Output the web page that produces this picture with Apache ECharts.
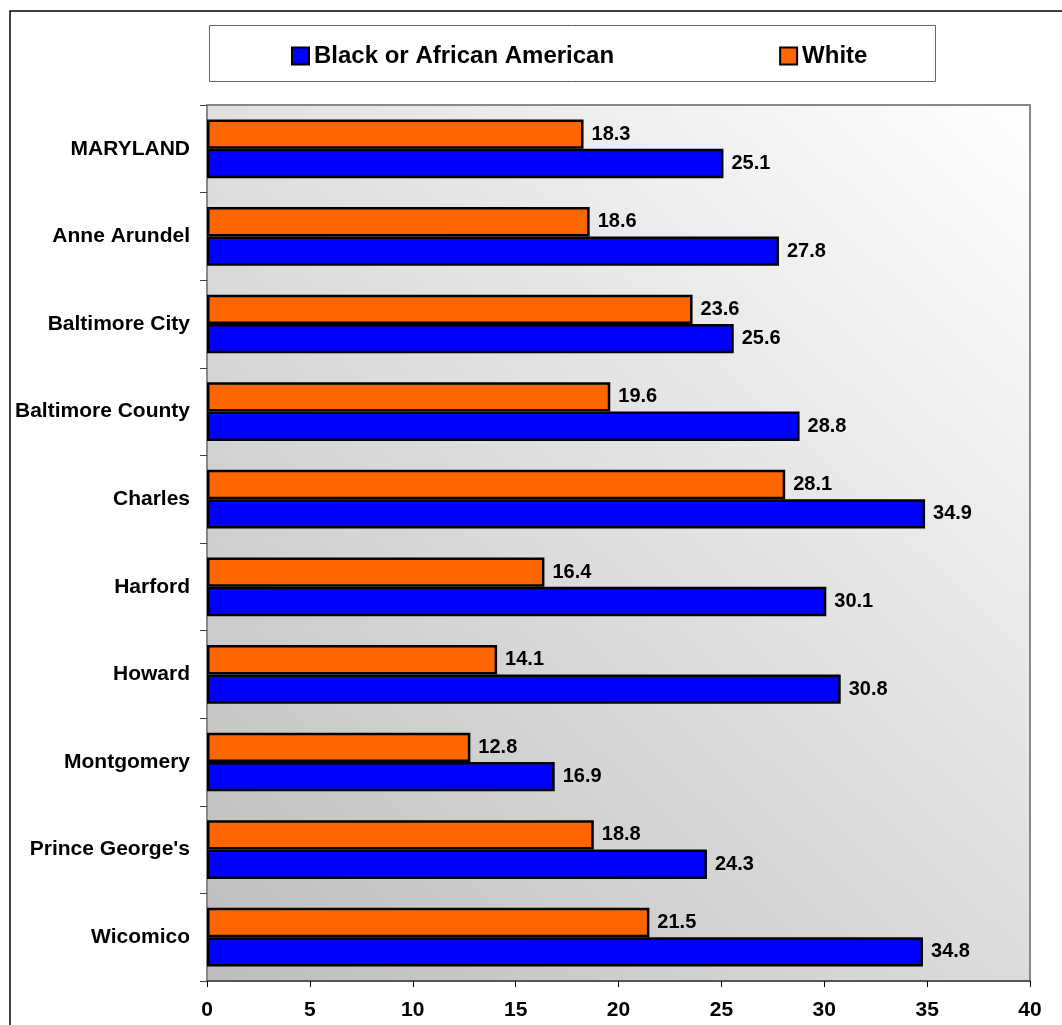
<!DOCTYPE html>
<html>
<head>
<meta charset="utf-8">
<script src="https://cdn.jsdelivr.net/npm/echarts@6/dist/echarts.min.js"></script>
<style>
  html, body { margin: 0; padding: 0; background: #fff; }
  #chart { width: 1062px; height: 1025px; }
</style>
</head>
<body>
<div id="chart"></div>
<script>
// data
const counties = ['MARYLAND', 'Anne Arundel', 'Baltimore City', 'Baltimore County', 'Charles',
  'Harford', 'Howard', 'Montgomery', "Prince George's", 'Wicomico']
const white = [18.3, 18.6, 23.6, 19.6, 28.1, 16.4, 14.1, 12.8, 18.8, 21.5]
const black = [25.1, 27.8, 25.6, 28.8, 34.9, 30.1, 30.8, 16.9, 24.3, 34.8]
const xTicks = [0, 5, 10, 15, 20, 25, 30, 35, 40]

const font = 'Liberation Sans, Arial, sans-serif'

const chart = echarts.init(document.getElementById('chart'))

const barLabel = {
  show: true,
  position: 'right',
  distance: 8,
  color: '#000',
  fontFamily: font,
  fontWeight: 'bold',
  fontSize: 20,
  formatter: p => p.value.toFixed(1)
}

chart.setOption({
  animation: false,
  textStyle: { fontFamily: font },
  graphic: [
    // outer frame
    { type: 'rect', shape: { x: 10, y: 11, width: 1070, height: 1040 },
      style: { fill: 'none', stroke: '#000', lineWidth: 1.5 }, silent: true, z: -10 },
    // legend box
    { type: 'rect', shape: { x: 209.5, y: 25.5, width: 726, height: 56 },
      style: { fill: '#fff', stroke: '#666', lineWidth: 1 }, silent: true, z: -5 }
  ],
  legend: {
    data: ['Black or African American', 'White'],
    left: 286,
    top: 39,
    itemWidth: 17,
    itemHeight: 17,
    itemGap: 165,
    icon: 'rect',
    textStyle: { fontFamily: font, fontWeight: 'bold', fontSize: 24, color: '#000' }
  },
  grid: {
    left: 207,
    top: 105,
    right: 32,
    bottom: 44,
    show: true,
    borderColor: '#888',
    borderWidth: 2,
    backgroundColor: new echarts.graphic.LinearGradient(0, 1, 1, 0, [
      { offset: 0, color: '#bdbdbd' },
      { offset: 1, color: '#ffffff' }
    ])
  },
  xAxis: {
    type: 'value',
    min: xTicks[0],
    max: xTicks[xTicks.length - 1],
    interval: 5,
    splitLine: { show: false },
    axisLine: { show: true, lineStyle: { color: '#555', width: 2 } },
    axisTick: { show: true, length: 6, lineStyle: { color: '#000' } },
    axisLabel: { margin: 19, color: '#000', fontFamily: font, fontWeight: 'bold', fontSize: 21 }
  },
  yAxis: {
    type: 'category',
    data: counties,
    inverse: true,
    axisLine: { show: true, lineStyle: { color: '#888', width: 2 } },
    axisTick: { show: true, length: 7, lineStyle: { color: '#444' } },
    axisLabel: { margin: 17, color: '#000', fontFamily: font, fontWeight: 'bold', fontSize: 21 }
  },
  series: [
    {
      name: 'White',
      type: 'bar',
      data: white,
      barGap: '0%',
      barCategoryGap: '33%',
      itemStyle: { color: '#ff6600', borderColor: '#000', borderWidth: 2.5 },
      label: barLabel
    },
    {
      name: 'Black or African American',
      type: 'bar',
      data: black,
      barGap: '0%',
      barCategoryGap: '33%',
      itemStyle: { color: '#0000ff', borderColor: '#000', borderWidth: 2.5 },
      label: barLabel
    }
  ]
})
</script>
</body>
</html>
